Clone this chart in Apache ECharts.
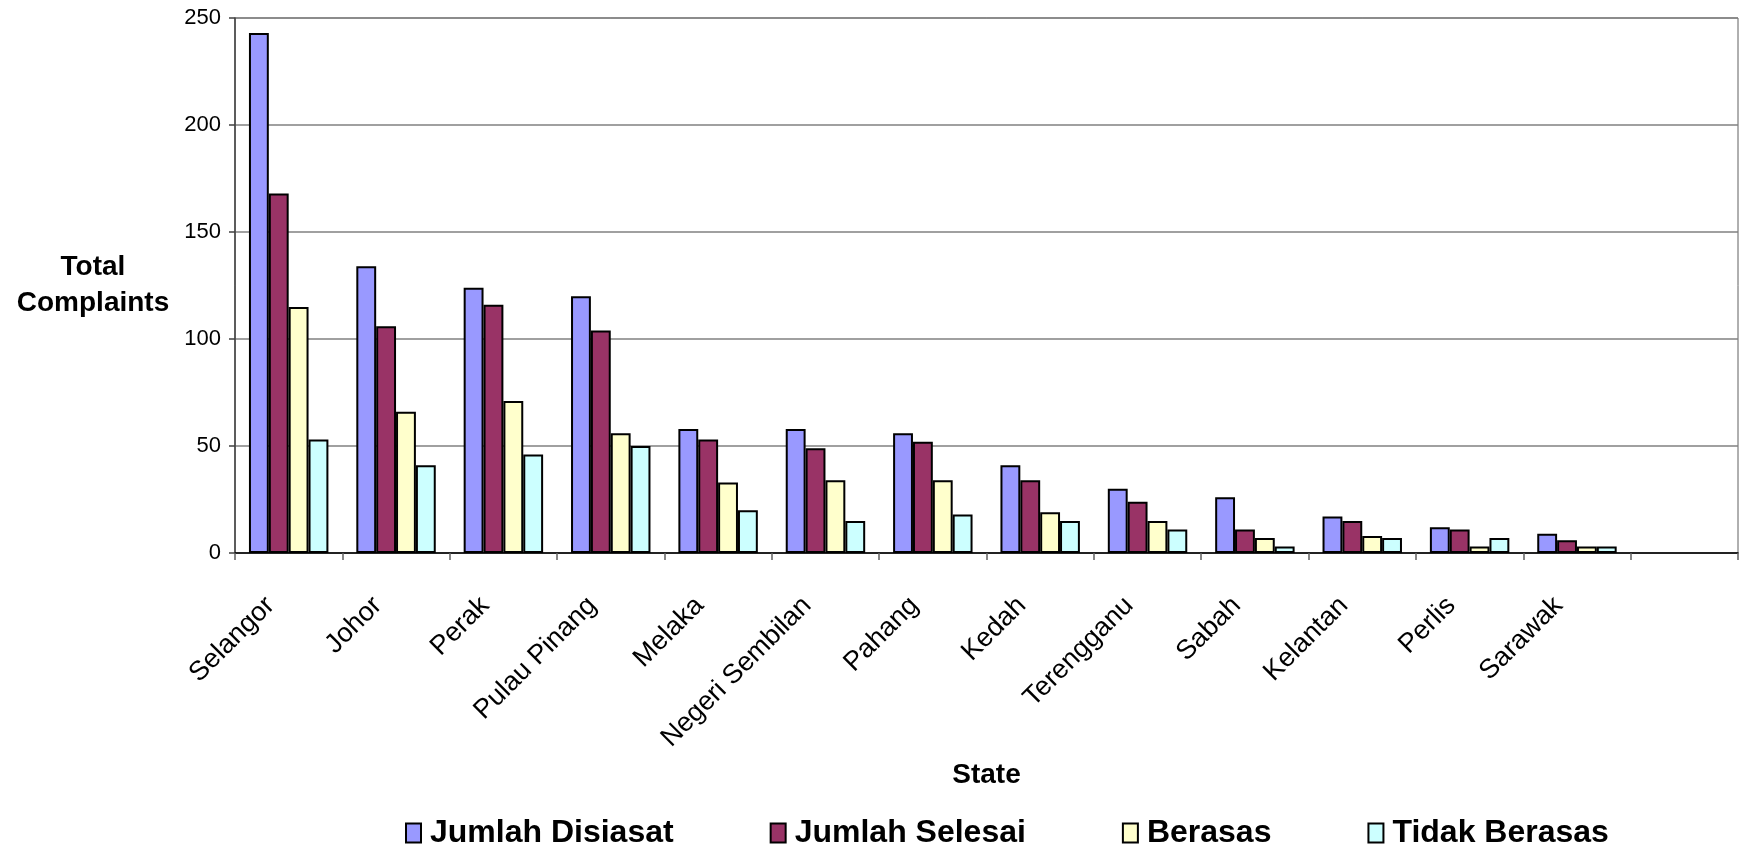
<!DOCTYPE html>
<html>
<head>
<meta charset="utf-8">
<title>Total Complaints by State</title>
<script src="https://cdn.jsdelivr.net/npm/echarts@6/dist/echarts.min.js"></script>
<style>
  html, body { margin: 0; padding: 0; background: #ffffff; }
  #chart { width: 1742px; height: 850px; }
</style>
</head>
<body>
<div id="chart"></div>
<script>
// States along the x axis (the last slot is left empty)
const states = ['Selangor', 'Johor', 'Perak', 'Pulau Pinang', 'Melaka', 'Negeri Sembilan',
  'Pahang', 'Kedah', 'Terengganu', 'Sabah', 'Kelantan', 'Perlis', 'Sarawak', ''];

// Complaint counts per state
const jumlahDisiasat = [243, 134, 124, 120, 58, 58, 56, 41, 30, 26, 17, 12, 9];
const jumlahSelesai  = [168, 106, 116, 104, 53, 49, 52, 34, 24, 11, 15, 11, 6];
const berasas        = [115, 66, 71, 56, 33, 34, 34, 19, 15, 7, 8, 3, 3];
const tidakBerasas   = [53, 41, 46, 50, 20, 15, 18, 15, 11, 3, 7, 7, 3];

// Value axis ticks
const yMin = 0, yMax = 250, yStep = 50;

const FONT = '"Liberation Sans", Arial, sans-serif';

function barSeries(name, data, color) {
  return {
    name: name,
    type: 'bar',
    data: data,
    barGap: '0%',
    barCategoryGap: '26%',
    itemStyle: { color: color, borderColor: '#000000', borderWidth: 2 },
    emphasis: { disabled: true }
  };
}

const chart = echarts.init(document.getElementById('chart'), null, { renderer: 'canvas' });

chart.setOption({
  animation: false,
  backgroundColor: '#ffffff',
  textStyle: { fontFamily: FONT },
  grid: {
    left: 235, right: 4, top: 18, bottom: 297,
    show: true, borderColor: '#606060', borderWidth: 1, backgroundColor: 'transparent'
  },
  legend: {
    left: 400, top: 812,
    itemWidth: 15, itemHeight: 19, itemGap: 96,
    icon: 'rect',
    textStyle: { fontFamily: FONT, fontSize: 32, fontWeight: 'bold', color: '#000', padding: [0, 0, 0, 4] },
    data: ['Jumlah Disiasat', 'Jumlah Selesai', 'Berasas', 'Tidak Berasas']
  },
  xAxis: {
    type: 'category',
    data: states,
    name: 'State',
    nameLocation: 'middle',
    nameGap: 222,
    nameTextStyle: { fontFamily: FONT, fontSize: 28, fontWeight: 'bold', color: '#000', verticalAlign: 'middle' },
    axisLine: { lineStyle: { color: '#000000', width: 1.5 } },
    axisTick: { show: true, length: 7, lineStyle: { color: '#606060', width: 1.5 } },
    axisLabel: { rotate: 45, fontSize: 27, color: '#000', margin: 30, fontFamily: FONT, interval: 0, padding: [0, 26, 0, 0] },
    splitLine: { show: false }
  },
  yAxis: {
    type: 'value',
    min: yMin, max: yMax, interval: yStep,
    name: 'Total\nComplaints',
    nameLocation: 'middle',
    nameRotate: 0,
    nameGap: 142,
    nameTextStyle: { fontFamily: FONT, fontSize: 28, fontWeight: 'bold', color: '#000', align: 'center', verticalAlign: 'middle', lineHeight: 36 },
    axisLine: { show: true, lineStyle: { color: '#404040', width: 1.5 } },
    axisTick: { show: true, length: 6, lineStyle: { color: '#404040', width: 1.5 } },
    axisLabel: { fontSize: 22, color: '#000', margin: 14, fontFamily: FONT },
    splitLine: { show: true, lineStyle: { color: '#808080', width: 1.5 } }
  },
  series: [
    barSeries('Jumlah Disiasat', jumlahDisiasat, '#9999FF'),
    barSeries('Jumlah Selesai', jumlahSelesai, '#993366'),
    barSeries('Berasas', berasas, '#FFFFCC'),
    barSeries('Tidak Berasas', tidakBerasas, '#CCFFFF')
  ]
});
</script>
</body>
</html>
